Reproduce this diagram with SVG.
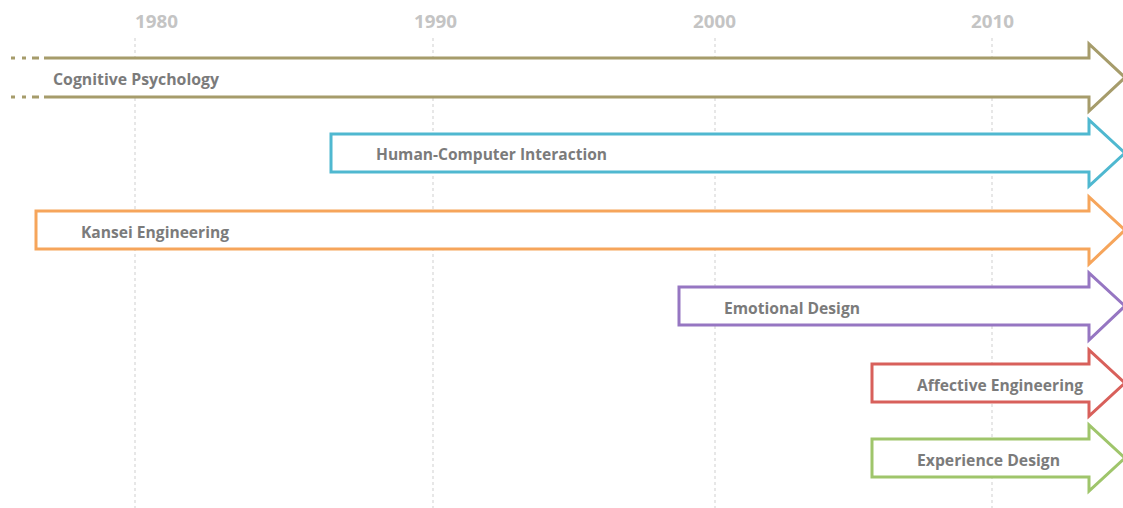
<svg xmlns="http://www.w3.org/2000/svg" width="1123" height="508" viewBox="0 0 1123 508">
<style>
.grid{stroke:#cfcfcf;stroke-width:1;stroke-dasharray:3,3;fill:none}
.year{font-family:"Open Sans","Liberation Sans",sans-serif;font-weight:bold;font-size:18px;fill:#c4c4c4}
.arrow{fill:#fff;stroke-width:3;stroke-linejoin:miter}
.lbl{font-family:"Open Sans","Liberation Sans",sans-serif;font-weight:bold;font-size:15.5px;fill:#7b7b7b}
</style>
<rect width="1123" height="508" fill="#fff"/>
<g id="timeline">
<line class="grid" x1="135" y1="38" x2="135" y2="508"/>
<line class="grid" x1="433" y1="38" x2="433" y2="508"/>
<line class="grid" x1="715" y1="38" x2="715" y2="508"/>
<line class="grid" x1="992" y1="38" x2="992" y2="508"/>
<text class="year" x="135" y="28" textLength="43" lengthAdjust="spacingAndGlyphs">1980</text>
<text class="year" x="414" y="28" textLength="43" lengthAdjust="spacingAndGlyphs">1990</text>
<text class="year" x="693" y="28" textLength="43" lengthAdjust="spacingAndGlyphs">2000</text>
<text class="year" x="971" y="28" textLength="43" lengthAdjust="spacingAndGlyphs">2010</text>
</g>
<g id="connectors"></g>
<g id="cognitive">
<path class="arrow" stroke="#a69c6b" d="M44,58 L1089,58 L1089,44 L1125,77.5 L1089,111 L1089,97 L44,97"/>
<path stroke="#a69c6b" stroke-width="3" fill="none" d="M11,58 H15 M22,58 H26 M32,58 H39 M11,97 H15 M22,97 H26 M32,97 H39"/>
<text class="lbl" x="53" y="85" textLength="166" lengthAdjust="spacingAndGlyphs">Cognitive Psychology</text>
</g>
<g id="hci">
<path class="arrow" stroke="#4fb8d0" d="M331,134 L1089,134 L1089,120 L1125,153 L1089,186 L1089,172 L331,172 Z"/>
<text class="lbl" x="376" y="160" textLength="231" lengthAdjust="spacingAndGlyphs">Human-Computer Interaction</text>
</g>
<g id="kansei">
<path class="arrow" stroke="#f6a55b" d="M36,211 L1089,211 L1089,197 L1125,230 L1089,264 L1089,249 L36,249 Z"/>
<text class="lbl" x="81" y="238" textLength="148" lengthAdjust="spacingAndGlyphs">Kansei Engineering</text>
</g>
<g id="emotional">
<path class="arrow" stroke="#9676c2" d="M679,287 L1089,287 L1089,273 L1125,306 L1089,340 L1089,325 L679,325 Z"/>
<text class="lbl" x="724" y="314" textLength="136" lengthAdjust="spacingAndGlyphs">Emotional Design</text>
</g>
<g id="affective">
<path class="arrow" stroke="#d8605b" d="M872,364 L1089,364 L1089,350 L1125,383 L1089,416 L1089,402 L872,402 Z"/>
<text class="lbl" x="917" y="391" textLength="166" lengthAdjust="spacingAndGlyphs">Affective Engineering</text>
</g>
<g id="experience">
<path class="arrow" stroke="#9fc56b" d="M872,439 L1089,439 L1089,425 L1125,458 L1089,491 L1089,477 L872,477 Z"/>
<text class="lbl" x="917" y="466" textLength="143" lengthAdjust="spacingAndGlyphs">Experience Design</text>
</g>
</svg>
